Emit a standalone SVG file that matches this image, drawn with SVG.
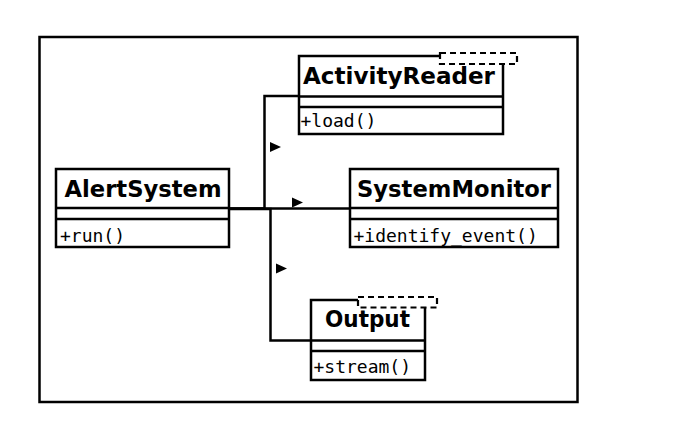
<svg xmlns="http://www.w3.org/2000/svg" width="682" height="425" viewBox="0 0 682 425">
<style>
.box{fill:#fff;stroke:#000;stroke-width:2.5}
.sep{stroke:#000;stroke-width:2.5}
.tpl{fill:#fff;stroke:#000;stroke-width:2.2;stroke-dasharray:6 4}
.name{font-family:"DejaVu Sans",sans-serif;font-weight:bold;font-size:22.5px;text-anchor:middle;fill:#000}
.op{font-family:"DejaVu Sans Mono",monospace;font-size:18px;fill:#000}
.wire{fill:none;stroke:#000;stroke-width:2.5}
.tri{fill:#000}
</style>
<rect x="39.5" y="37" width="538" height="365" fill="#fff" stroke="#000" stroke-width="2.5"/>
<g id="connectors">
<polyline class="wire" points="229,208.5 264.5,208.5 264.5,96 299,96"/>
<line class="wire" x1="229" y1="208.5" x2="350" y2="208.5"/>
<polyline class="wire" points="229,209 270.5,209 270.5,340.5 311,340.5"/>
<polygon class="tri" points="270,142 281,147 270,152"/>
<polygon class="tri" points="292,197.5 303,202.5 292,207.5"/>
<polygon class="tri" points="276,263.5 287,268.5 276,273.5"/>
</g>
<g id="ActivityReader">
<rect class="box" x="299" y="56" width="204" height="78"/>
<line class="sep" x1="299" y1="96.5" x2="503" y2="96.5"/>
<line class="sep" x1="299" y1="107" x2="503" y2="107"/>
<rect class="tpl" x="440" y="53" width="77" height="11"/>
<text class="name" x="399" y="83.5" textLength="192" lengthAdjust="spacingAndGlyphs">ActivityReader</text>
<text class="op" x="300.5" y="126.5">+load()</text>
</g>
<g id="AlertSystem">
<rect class="box" x="56" y="169" width="173" height="78"/>
<line class="sep" x1="56" y1="208" x2="229" y2="208"/>
<line class="sep" x1="56" y1="219" x2="229" y2="219"/>
<text class="name" x="143" y="197" textLength="157" lengthAdjust="spacingAndGlyphs">AlertSystem</text>
<text class="op" x="60" y="241.5">+run()</text>
</g>
<g id="SystemMonitor">
<rect class="box" x="350" y="169" width="208" height="78"/>
<line class="sep" x1="350" y1="208" x2="558" y2="208"/>
<line class="sep" x1="350" y1="219" x2="558" y2="219"/>
<text class="name" x="454" y="197" textLength="194" lengthAdjust="spacingAndGlyphs">SystemMonitor</text>
<text class="op" x="353.5" y="241.5">+identify_event()</text>
</g>
<g id="Output">
<rect class="box" x="311" y="300" width="114" height="80"/>
<line class="sep" x1="311" y1="340.5" x2="425" y2="340.5"/>
<line class="sep" x1="311" y1="351" x2="425" y2="351"/>
<rect class="tpl" x="358" y="297" width="79" height="10.5"/>
<text class="name" x="367.5" y="327" textLength="85" lengthAdjust="spacingAndGlyphs">Output</text>
<text class="op" x="313.5" y="372.5">+stream()</text>
</g>
</svg>
